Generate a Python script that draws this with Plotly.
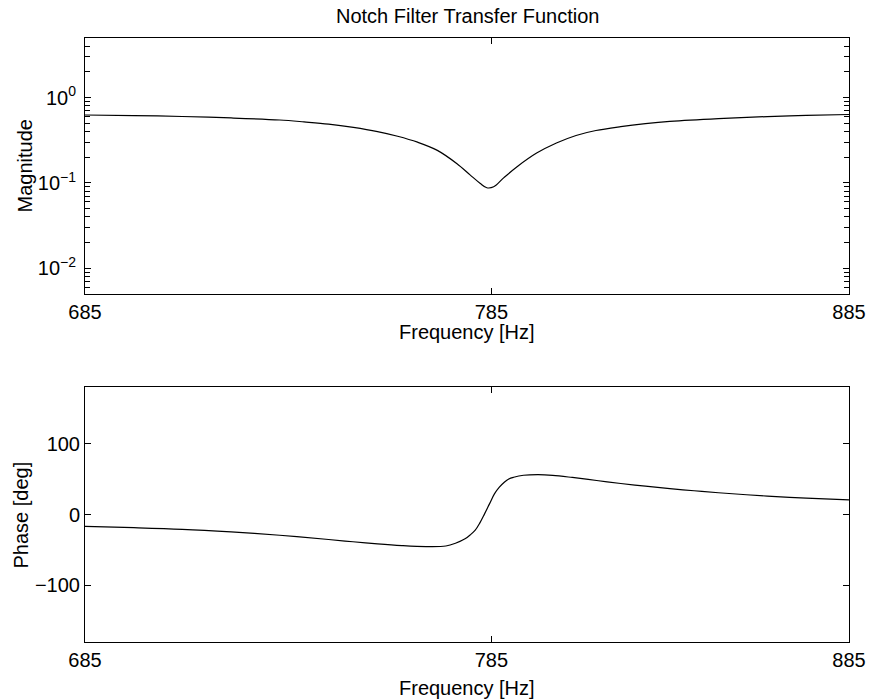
import plotly.graph_objects as go

# ---- data ----
mag_freq = [685, 696.3, 707.7, 719.4, 731.2, 737.2, 743.3, 749.5, 755.6, 760.7,
            765.8, 770.9, 776.0, 779.4, 782.0, 783.8, 785.6, 788.3, 791.7, 797.0,
            802.3, 807.6, 813.0, 819.8, 826.6, 833.4, 847.1, 861.1, 872.4, 885]
mag_vals = [0.626, 0.617, 0.601, 0.578, 0.547, 0.520, 0.490, 0.448, 0.400, 0.353,
            0.3006, 0.241, 0.168, 0.1245, 0.0993, 0.0879, 0.0902, 0.1156, 0.154, 0.224,
            0.294, 0.3606, 0.412, 0.457, 0.495, 0.526, 0.568, 0.600, 0.619, 0.635]

ph_freq = [685, 696.3, 707.7, 719.4, 731.2, 743.3, 749.4, 755.6, 761.8, 768.0,
           773.1, 775.6, 778.1, 779.4, 780.7, 781.9, 783.2, 784.5, 785.8, 787.1,
           788.4, 789.6, 790.9, 793.5, 797.4, 801.3, 806.6, 813.2, 819.8, 826.6,
           833.4, 840.2, 847.1, 861.1, 872.4, 885]
ph_vals = [-16.9, -18.6, -20.9, -24.6, -29.3, -35.3, -38.5, -41.5, -43.9, -45.3,
           -44.5, -40.6, -34.3, -29.0, -22.5, -12.5, 0.9, 15.0, 29.1, 38.5,
           45.5, 50.2, 52.6, 55.4, 56.3, 55.3, 52.3, 48.0, 43.8, 40.0,
           36.6, 33.5, 30.7, 26.0, 23.2, 20.7]

x_ticks = [685, 785, 885]
mag_ticks = [0.01, 0.1, 1]
mag_tick_text = ["10<sup>\u22122</sup>", "10<sup>\u22121</sup>", "10<sup>0</sup>"]
mag_minor = [0.005, 0.006, 0.007, 0.008, 0.009,
             0.02, 0.03, 0.04, 0.05, 0.06, 0.07, 0.08, 0.09,
             0.2, 0.3, 0.4, 0.5, 0.6, 0.7, 0.8, 0.9, 2, 3, 4, 5]
ph_ticks = [-100, 0, 100]

title_text = "Notch Filter Transfer Function"
xlabel = "Frequency [Hz]"
ylabel_mag = "Magnitude"
ylabel_ph = "Phase [deg]"

FONT = "Liberation Sans, Arial, Helvetica, sans-serif"
FS = 20

W, H = 878, 700
L, R, T, B = 85, 23, 38, 58
PH = H - T - B  # plot height in px


def py(px):  # pixel row -> paper y
    return (H - B - px) / PH


def pxx(px):  # pixel column -> paper x
    return (px - L) / (W - L - R)


fig = go.Figure()
fig.add_trace(go.Scatter(x=mag_freq, y=mag_vals, mode="lines",
                         line=dict(color="black", width=1.2, shape="spline", smoothing=1.0),
                         xaxis="x", yaxis="y", showlegend=False, hoverinfo="skip"))
fig.add_trace(go.Scatter(x=ph_freq, y=ph_vals, mode="lines",
                         line=dict(color="black", width=1.2, shape="spline", smoothing=1.0),
                         xaxis="x2", yaxis="y2", showlegend=False, hoverinfo="skip"))

axis_common = dict(showline=True, linecolor="black", linewidth=1, mirror="ticks",
                   ticks="inside", ticklen=6, tickcolor="black", tickwidth=1,
                   showgrid=False, zeroline=False,
                   tickfont=dict(family=FONT, size=FS, color="black"))

top_dom = [py(294), 1.0]
bot_dom = [0.0, py(387)]

fig.update_layout(
    width=W, height=H,
    margin=dict(l=L, r=R, t=T, b=B, pad=0),
    paper_bgcolor="white", plot_bgcolor="white",
    font=dict(family=FONT, size=FS, color="black"),
    xaxis=dict(type="log", range=[2.835691, 2.946943], domain=[0, 1], anchor="y",
               tickmode="array", tickvals=x_ticks, ticktext=[str(v) for v in x_ticks],
               **axis_common),
    yaxis=dict(type="log", range=[-2.30103, 0.69897], domain=top_dom, anchor="x",
               tickmode="array", tickvals=mag_ticks, ticktext=mag_tick_text,
               ticklabelstandoff=4,
               minor=dict(tickmode="array", tickvals=mag_minor, ticks="inside",
                          ticklen=5, tickcolor="black", showgrid=False),
               **axis_common),
    xaxis2=dict(type="log", range=[2.835691, 2.946943], domain=[0, 1], anchor="y2",
                tickmode="array", tickvals=x_ticks, ticktext=[str(v) for v in x_ticks],
                **axis_common),
    yaxis2=dict(range=[-180, 180], domain=bot_dom, anchor="x2",
                tickmode="array", tickvals=ph_ticks,
                **axis_common),
    annotations=[
        dict(text=title_text, xref="paper", yref="paper", x=pxx(470), y=py(16),
             xanchor="center", yanchor="middle", showarrow=False,
             font=dict(family=FONT, size=FS, color="black")),
        dict(text=xlabel, xref="paper", yref="paper", x=pxx(470), y=py(332),
             xanchor="center", yanchor="middle", showarrow=False,
             font=dict(family=FONT, size=FS, color="black")),
        dict(text=xlabel, xref="paper", yref="paper", x=pxx(470), y=py(688),
             xanchor="center", yanchor="middle", showarrow=False,
             font=dict(family=FONT, size=FS, color="black")),
        dict(text=ylabel_mag, xref="paper", yref="paper", x=pxx(25), y=py(166),
             xanchor="center", yanchor="middle", textangle=-90, showarrow=False,
             font=dict(family=FONT, size=FS, color="black")),
        dict(text=ylabel_ph, xref="paper", yref="paper", x=pxx(20), y=py(515),
             xanchor="center", yanchor="middle", textangle=-90, showarrow=False,
             font=dict(family=FONT, size=FS, color="black")),
    ],
)

fig.write_html("out.html")
